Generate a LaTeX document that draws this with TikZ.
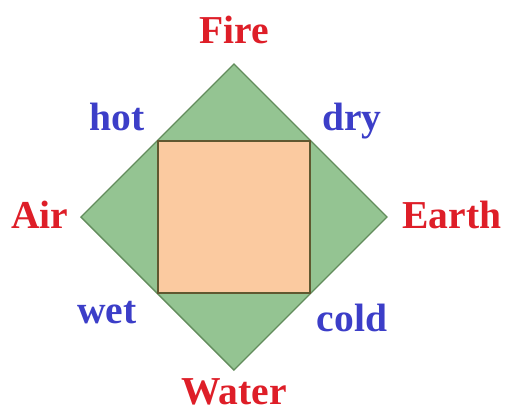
\documentclass[tikz,border=0pt]{standalone}
\usepackage{fontspec}
\setmainfont{Liberation Serif}
\usepackage{tikz}
\usetikzlibrary{calc}
\definecolor{elemred}{RGB}{222, 30, 40}
\definecolor{qualblue}{RGB}{60, 62, 200}
\definecolor{leafgreen}{RGB}{148, 196, 146}
\definecolor{leafedge}{RGB}{98, 140, 92}
\definecolor{peach}{RGB}{251, 202, 160}
\definecolor{peachedge}{RGB}{96, 88, 48}

\begin{document}
\begin{tikzpicture}[font=\fontsize{22.5}{26}\selectfont\bfseries,
  every node/.style={text height=0.68em, text depth=0.22em, inner sep=1pt}]
\useasboundingbox (-4.68,-3.96) rectangle (5.42,4.34);
% diamond of the four elements
\coordinate (fire) at (0,3.06);
\coordinate (earth) at (3.06,0);
\coordinate (water) at (0,-3.06);
\coordinate (air) at (-3.06,0);
\draw[fill=leafgreen, draw=leafedge, thick] (fire) -- (earth) -- (water) -- (air) -- cycle;
% square of the qualities
\draw[fill=peach, draw=peachedge, thick] (-1.52,-1.52) rectangle (1.52,1.52);
\foreach \n/\p/\t in {%
  firelbl/{0,3.55}/Fire, airlbl/{-3.88,-0.15}/Air,
  earthlbl/{4.36,-0.15}/Earth} {
  \node[text=elemred] (\n) at (\p) {\t};
}
\node[text=elemred, text depth=0pt] (waterlbl) at (0,-3.64) {Water};
\foreach \n/\p/\t in {%
  hotlbl/{-2.34,1.81}/hot, drylbl/{2.36,1.81}/dry,
  wetlbl/{-2.54,-2.05}/wet, coldlbl/{2.36,-2.21}/cold} {
  \node[text=qualblue] (\n) at (\p) {\t};
}
\end{tikzpicture}
\end{document}
